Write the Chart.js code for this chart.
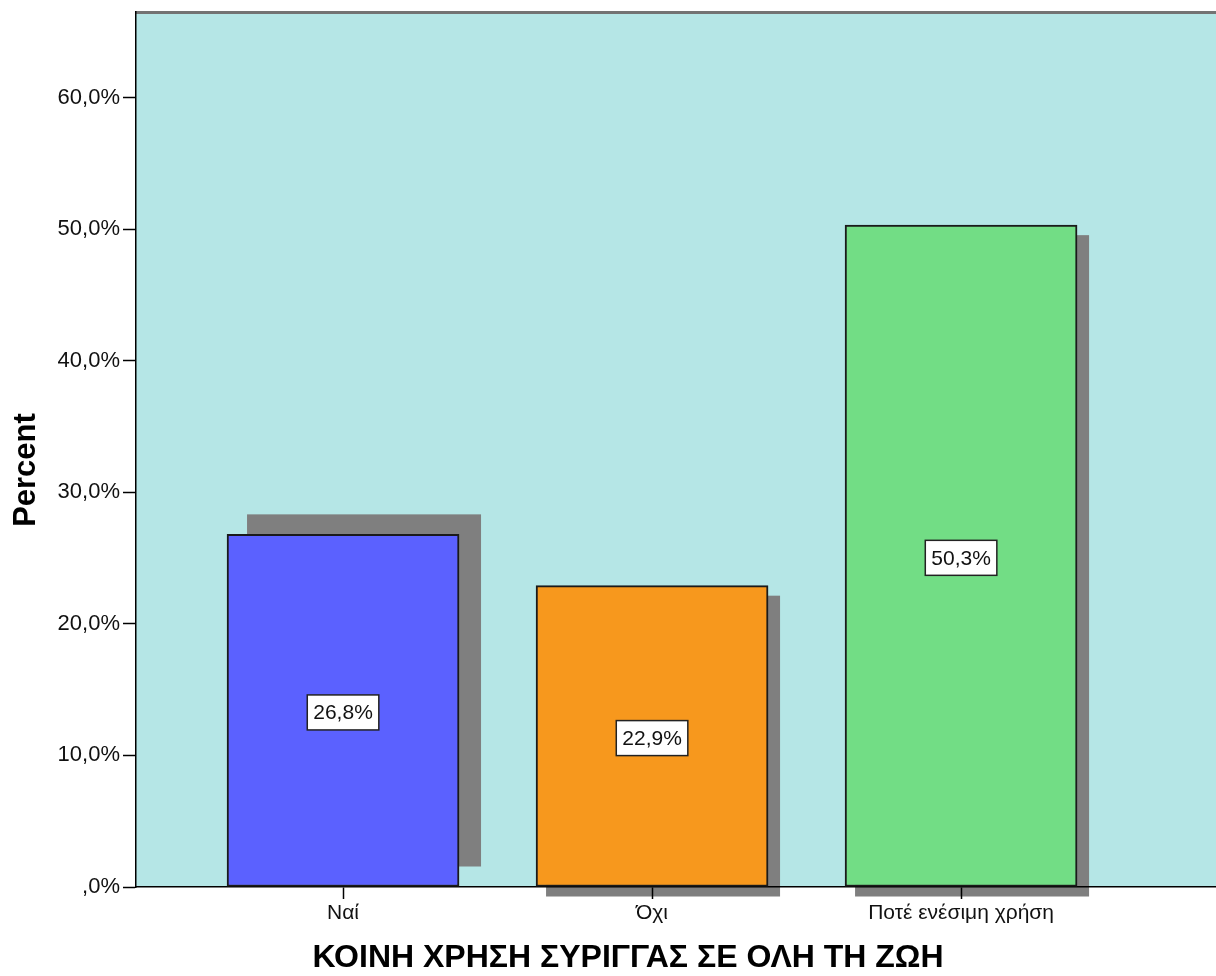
<!DOCTYPE html>
<html>
<head>
<meta charset="utf-8">
<script src="https://cdn.jsdelivr.net/npm/chart.js@4/dist/chart.umd.min.js"></script>
<style>
  html, body { margin:0; padding:0; background:#fff; }
  #wrap { width:1216px; height:976px; }
</style>
</head>
<body>
<div id="wrap"><canvas id="chart"></canvas></div>
<script>
// data
const categories = ['Ναί', 'Όχι', 'Ποτέ ενέσιμη χρήση'];
const percents = [26.8, 22.9, 50.3];
const yTickValues = [0, 10, 20, 30, 40, 50, 60];
const xTitle = 'ΚΟΙΝΗ ΧΡΗΣΗ ΣΥΡΙΓΓΑΣ ΣΕ ΟΛΗ ΤΗ ΖΩΗ';
const yTitle = 'Percent';

const barColors = ['#5b61ff', '#f7981d', '#72dd85'];
// SPSS drop shadows, offset in px per bar
const shadowOffsets = [[20, -20], [10, 10], [10, 10]];

function fmtPct(v){
  if(v === 0) return ',0%';
  return v.toFixed(1).replace('.', ',') + '%';
}

const spssLook = {
  id: 'spssLook',
  beforeDraw(chart){
    const {ctx, chartArea:a} = chart;
    ctx.save();
    ctx.fillStyle = '#b5e6e6';
    ctx.fillRect(a.left, a.top, a.right - a.left, a.bottom - a.top);
    // top border of the plot frame
    ctx.fillStyle = '#737373';
    ctx.fillRect(a.left, a.top - 1, a.right - a.left, 3);
    // shadows behind bars
    ctx.fillStyle = '#7f7f7f';
    chart.getDatasetMeta(0).data.forEach((bar, i) => {
      const [dx, dy] = shadowOffsets[i];
      const w = bar.width;
      ctx.fillRect(bar.x - w / 2 + dx, bar.y + dy, w + 2, bar.base - bar.y);
    });
    ctx.restore();
  },
  afterDatasetsDraw(chart){
    const ctx = chart.ctx;
    ctx.save();
    ctx.font = '21px "Liberation Sans", Arial, sans-serif';
    ctx.textAlign = 'center';
    ctx.textBaseline = 'middle';
    chart.getDatasetMeta(0).data.forEach((bar, i) => {
      const txt = fmtPct(percents[i]);
      const cx = bar.x, cy = (bar.y + bar.base) / 2 + 2;
      const w = ctx.measureText(txt).width + 12, h = 35;
      ctx.fillStyle = '#ffffff';
      ctx.fillRect(cx - w / 2, cy - h / 2, w, h);
      ctx.strokeStyle = '#222';
      ctx.lineWidth = 1.5;
      ctx.strokeRect(cx - w / 2, cy - h / 2, w, h);
      ctx.fillStyle = '#111';
      ctx.fillText(txt, cx, cy + 1);
    });
    ctx.restore();
  },
  afterDraw(chart){
    const ctx = chart.ctx;
    const xs = chart.scales.x;
    ctx.save();
    ctx.fillStyle = '#000';
    ctx.textAlign = 'center';
    ctx.textBaseline = 'middle';
    ctx.font = 'bold 32px "Liberation Sans", Arial, sans-serif';
    ctx.fillText(xTitle, xs.getPixelForValue(2) - 24, 958);
    ctx.font = 'bold 31px "Liberation Sans", Arial, sans-serif';
    ctx.translate(26, 470);
    ctx.rotate(-Math.PI / 2);
    ctx.fillText(yTitle, 0, 0);
    ctx.restore();
  }
};

new Chart(document.getElementById('chart'), {
  type: 'bar',
  data: {
    datasets: [{
      label: 'Percent',
      data: categories.map((c, i) => ({ x: i + 1, y: percents[i] })),
      backgroundColor: barColors,
      borderColor: '#1a1a1a',
      borderWidth: 2,
      borderSkipped: false,
      barThickness: 232
    }]
  },
  options: {
    responsive: true,
    maintainAspectRatio: false,
    animation: false,
    layout: { padding: { top: 12, right: 0, bottom: 0, left: 0 } },
    plugins: { legend: { display: false }, tooltip: { enabled: false } },
    scales: {
      x: {
        type: 'linear',
        offset: false,
        min: 0.33,
        max: 3.825,
        afterFit(s){ s.height = 89; s.paddingLeft = 0; s.paddingRight = 0; },
        afterBuildTicks(s){ s.ticks = categories.map((c, i) => ({ value: i + 1 })); },
        grid: { offset: false, drawOnChartArea: false, tickLength: 12, color: '#000', tickWidth: 1.5 },
        border: { display: true, color: '#000', width: 1.5 },
        ticks: {
          autoSkip: false,
          maxRotation: 0,
          padding: 2,
          color: '#111',
          font: { family: '"Liberation Sans", Arial, sans-serif', size: 21 },
          callback: v => categories[Math.round(v) - 1] || ''
        }
      },
      y: {
        min: 0,
        max: 66.5,
        afterFit(s){ s.width = 136; s.paddingTop = 0; s.paddingBottom = 0; },
        afterBuildTicks(s){ s.ticks = yTickValues.map(v => ({ value: v })); },
        grid: { drawOnChartArea: false, tickLength: 13, color: '#000', tickWidth: 1.5 },
        border: { display: true, color: '#000', width: 1.5 },
        ticks: {
          padding: 3,
          color: '#111',
          font: { family: '"Liberation Sans", Arial, sans-serif', size: 22 },
          callback: v => fmtPct(v)
        }
      }
    }
  },
  plugins: [spssLook]
});
</script>
</body>
</html>
